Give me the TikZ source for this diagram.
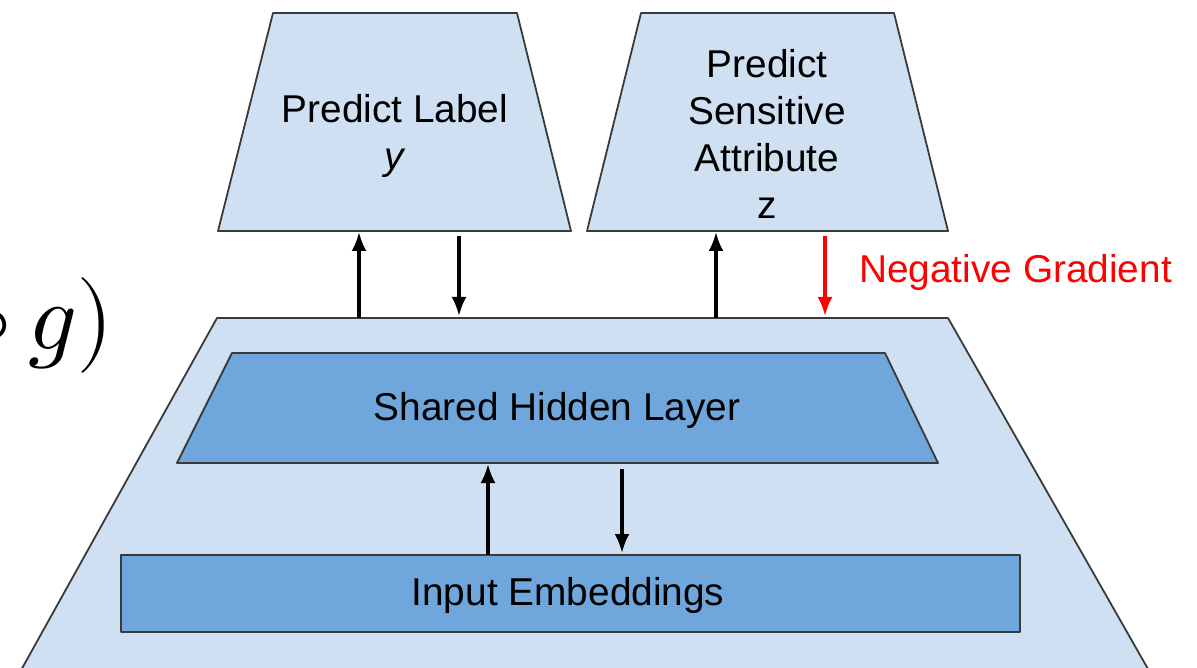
\documentclass[tikz,border=0pt]{standalone}
\usepackage{fontspec}
\setmainfont{Liberation Sans}
\usepackage{unicode-math}
\setmathfont{Latin Modern Math}
\usetikzlibrary{arrows.meta}
\definecolor{lightb}{HTML}{CFE0F2}
\definecolor{darkb}{HTML}{6FA6DB}
\definecolor{edge}{HTML}{3A3A3A}
\tikzset{
  x=1pt, y=-1pt,
  shapebox/.style={draw=edge, line width=1.8pt, line join=round},
  lbl/.style={font=\fontsize{38.8}{47}\selectfont, align=center, inner sep=0pt},
  flow/.style={line width=3.2pt, -{Latex[length=19pt,width=15pt]}},
}
\begin{document}
\begin{tikzpicture}
\useasboundingbox (0,0) rectangle (1197,668);
\clip (0,0) rectangle (1197,668);
% big trapezoid
\draw[shapebox, fill=lightb] (217,318) -- (948,318) -- (1160,690) -- (10,690) -- cycle;
% top trapezoids
\draw[shapebox, fill=lightb] (273,13) -- (517,13) -- (571,231) -- (218,231) -- cycle;
\draw[shapebox, fill=lightb] (641,13) -- (894,13) -- (948,231) -- (587,231) -- cycle;
% hidden layer
\draw[shapebox, fill=darkb] (232,353) -- (885,353) -- (938,463) -- (177,463) -- cycle;
% input embeddings
\draw[shapebox, fill=darkb] (121,555) rectangle (1020,632);
% labels
\node[lbl] (label) at (395,136) {Predict Label\\\textit{y}};
\node[lbl] (attr) at (767,134) {Predict\\Sensitive\\Attribute\\z};
\node[lbl] (hidden) at (557,410) {Shared Hidden Layer};
\node[lbl] (embed) at (568,595) {Input Embeddings};
\node[lbl, text=red, anchor=west] (neg) at (859,272) {Negative Gradient};
\node[inner sep=0pt, anchor=base east, font=\fontsize{96}{110}\selectfont] (math) at (114,349) {$\circ\, g)$};
% connector points
\coordinate (a1) at (359,318); \coordinate (a2) at (359,232);
\coordinate (b1) at (459,236); \coordinate (b2) at (459,316);
\coordinate (c1) at (716,318); \coordinate (c2) at (716,232);
\coordinate (d1) at (825,236); \coordinate (d2) at (825,316);
\coordinate (e1) at (488,555); \coordinate (e2) at (488,464);
\coordinate (f1) at (622,469); \coordinate (f2) at (622,553);
\draw[flow] (a1) -- (a2);
\draw[flow] (b1) -- (b2);
\draw[flow] (c1) -- (c2);
\draw[flow, red] (d1) -- (d2);
\draw[flow] (e1) -- (e2);
\draw[flow] (f1) -- (f2);
\end{tikzpicture}
\end{document}
